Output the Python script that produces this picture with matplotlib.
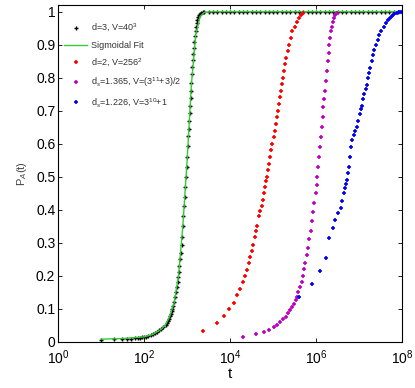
import numpy as np
import matplotlib

matplotlib.use("Agg")
import matplotlib.pyplot as plt

# values: log10(t) and P_A(t)
black_logt = [1.00, 1.30, 1.48, 1.60, 1.70, 1.78, 1.85, 1.90, 1.95, 2.00, 2.05, 2.10, 2.15, 2.20,
              2.25, 2.30, 2.35, 2.40, 2.45, 2.50, 2.53, 2.55, 2.58, 2.60, 2.62, 2.64, 2.66, 2.68,
              2.70, 2.72, 2.74, 2.76, 2.78, 2.79, 2.81, 2.82, 2.84, 2.85, 2.87, 2.88, 2.90, 2.91,
              2.93, 2.94, 2.96, 2.97, 2.99, 3.00, 3.02, 3.03, 3.04, 3.05, 3.06, 3.07, 3.08, 3.09,
              3.10, 3.11, 3.12, 3.13, 3.14, 3.15, 3.17, 3.18, 3.20, 3.21, 3.23, 3.24, 3.26, 3.28,
              3.31, 3.33, 3.37, 3.40]
black_p = [0.007, 0.008, 0.009, 0.010, 0.010, 0.011, 0.012, 0.013, 0.014, 0.015, 0.016, 0.018,
           0.021, 0.024, 0.027, 0.031, 0.035, 0.040, 0.045, 0.052, 0.057, 0.063, 0.070, 0.078,
           0.085, 0.092, 0.100, 0.110, 0.122, 0.135, 0.150, 0.165, 0.180, 0.195, 0.212, 0.230,
           0.250, 0.268, 0.292, 0.318, 0.350, 0.380, 0.410, 0.440, 0.470, 0.500, 0.530, 0.560,
           0.592, 0.623, 0.645, 0.670, 0.692, 0.715, 0.738, 0.760, 0.785, 0.810, 0.832, 0.855,
           0.872, 0.890, 0.908, 0.925, 0.940, 0.955, 0.966, 0.975, 0.983, 0.990, 0.994, 0.997,
           0.999, 1.000]
black_plateau_logt = [3.5, 3.6, 3.7, 3.8, 3.9, 4.0, 4.1, 4.2, 4.3, 4.4, 4.5, 4.6, 4.7, 4.8, 4.9,
                      5.0, 5.1, 5.2, 5.3, 5.4, 5.5, 5.6, 5.7, 5.8, 5.9, 6.0, 6.1, 6.2, 6.3, 6.4,
                      6.5, 6.6, 6.7, 6.8, 6.9, 7.0, 7.1, 7.2, 7.3, 7.4, 7.5, 7.6, 7.7, 7.8, 7.9, 8.0]

fit_logt = [1.0, 1.5, 2.0, 2.2, 2.4, 2.5, 2.6, 2.7, 2.8, 2.9, 3.0, 3.1, 3.2, 3.3, 3.4, 3.6, 8.0]
fit_p = [0.008, 0.010, 0.015, 0.022, 0.038, 0.052, 0.078, 0.120, 0.200, 0.350, 0.550, 0.780,
         0.930, 0.985, 0.998, 1.000, 1.000]

red_logt = [3.37, 3.69, 3.86, 3.98, 4.08, 4.16, 4.22, 4.29, 4.35, 4.39, 4.43, 4.47, 4.51, 4.54,
            4.57, 4.60, 4.63, 4.67, 4.70, 4.73, 4.76, 4.79, 4.81, 4.84, 4.86, 4.88, 4.90, 4.93,
            4.95, 4.98, 5.01, 5.04, 5.07, 5.09, 5.11, 5.13, 5.15, 5.18, 5.20, 5.23, 5.26, 5.28,
            5.31, 5.34, 5.37, 5.41, 5.45, 5.50, 5.55, 5.60, 5.65, 5.70]
red_p = [0.033, 0.056, 0.078, 0.098, 0.118, 0.141, 0.160, 0.180, 0.200, 0.218, 0.239, 0.256,
         0.274, 0.293, 0.317, 0.335, 0.351, 0.380, 0.395, 0.412, 0.430, 0.450, 0.470, 0.486,
         0.500, 0.520, 0.540, 0.560, 0.580, 0.600, 0.620, 0.640, 0.660, 0.680, 0.700, 0.720,
         0.740, 0.760, 0.780, 0.800, 0.820, 0.840, 0.860, 0.880, 0.900, 0.920, 0.940, 0.955,
         0.968, 0.980, 0.990, 0.995]

mag_logt = [4.29, 4.60, 4.78, 4.91, 5.01, 5.08, 5.16, 5.22, 5.29, 5.34, 5.40, 5.44, 5.49, 5.53,
            5.56, 5.59, 5.63, 5.66, 5.69, 5.72, 5.75, 5.78, 5.81, 5.84, 5.87, 5.90, 5.93, 5.96,
            5.99, 6.01, 6.03, 6.05, 6.07, 6.09, 6.11, 6.13, 6.15, 6.17, 6.19, 6.21, 6.23, 6.25,
            6.27, 6.29, 6.31, 6.33, 6.35, 6.37, 6.39, 6.42, 6.45, 6.48]
mag_p = [0.015, 0.023, 0.030, 0.037, 0.044, 0.051, 0.060, 0.068, 0.076, 0.086, 0.096, 0.106,
         0.116, 0.126, 0.136, 0.150, 0.165, 0.180, 0.200, 0.220, 0.240, 0.262, 0.285, 0.310,
         0.335, 0.365, 0.392, 0.420, 0.450, 0.475, 0.500, 0.530, 0.560, 0.590, 0.620, 0.650,
         0.680, 0.710, 0.735, 0.760, 0.790, 0.820, 0.850, 0.875, 0.900, 0.920, 0.940, 0.955,
         0.968, 0.980, 0.990, 0.995]

blue_logt = [5.61, 5.91, 6.08, 6.22, 6.30, 6.39, 6.44, 6.51, 6.57, 6.61, 6.64, 6.67, 6.69, 6.72,
             6.74, 6.76, 6.79, 6.81, 6.84, 6.87, 6.91, 6.95, 6.98, 7.02, 7.05, 7.07, 7.10, 7.12,
             7.15, 7.18, 7.21, 7.24, 7.26, 7.29, 7.32, 7.35, 7.39, 7.43, 7.47, 7.52, 7.57, 7.62,
             7.67, 7.72, 7.77, 7.82, 7.87, 7.92, 7.97]
blue_p = [0.135, 0.175, 0.214, 0.254, 0.313, 0.345, 0.370, 0.390, 0.405, 0.428, 0.450, 0.465,
          0.477, 0.490, 0.510, 0.530, 0.560, 0.590, 0.610, 0.625, 0.640, 0.650, 0.668, 0.690,
          0.705, 0.714, 0.734, 0.750, 0.765, 0.778, 0.800, 0.815, 0.828, 0.850, 0.870, 0.885,
          0.900, 0.915, 0.928, 0.942, 0.955, 0.965, 0.975, 0.982, 0.988, 0.992, 0.996, 0.998,
          1.000]

labels = ["d=3, V=40$^3$", "Sigmoidal Fit", "d=2, V=256$^2$",
          "d$_s$=1.365, V=(3$^{11}$+3)/2", "d$_s$=1.226, V=3$^{10}$+1"]
x_ticks = [1e0, 1e2, 1e4, 1e6, 1e8]
y_ticks = [0, 0.1, 0.2, 0.3, 0.4, 0.5, 0.6, 0.7, 0.8, 0.9, 1]
y_ticklabels = ["0", "0.1", "0.2", "0.3", "0.4", "0.5", "0.6", "0.7", "0.8", "0.9", "1"]

plt.rcParams["font.family"] = ["Liberation Sans", "DejaVu Sans"]
plt.rcParams["mathtext.fontset"] = "custom"
plt.rcParams["mathtext.rm"] = "Liberation Sans"
plt.rcParams["mathtext.it"] = "Liberation Sans:italic"

fig = plt.figure(figsize=(4.15, 3.88), dpi=100)
ax = fig.add_axes([0.140, 0.119, 0.829, 0.868])

black_t = np.power(10.0, black_logt + black_plateau_logt)
black_all_p = black_p + [1.0] * len(black_plateau_logt)
ax.plot(black_t, black_all_p, "+", color="black", ms=3.5, mew=1.0, label=labels[0])
ax.plot(np.power(10.0, fit_logt), fit_p, "-", color="#33cc33", lw=1.0, label=labels[1])
ax.plot(np.power(10.0, red_logt), red_p, "+", color="#ff0000", ms=3.5, mew=1.2, label=labels[2])
ax.plot(np.power(10.0, mag_logt), mag_p, "+", color="#c000c0", ms=3.5, mew=1.2, label=labels[3])
ax.plot(np.power(10.0, blue_logt), blue_p, "+", color="#0000ee", ms=3.5, mew=1.2, label=labels[4])

ax.set_xscale("log")
ax.set_xlim(1e0, 1e8)
ax.set_ylim(0, 1.02)
ax.set_xticks(x_ticks)
ax.set_yticks(y_ticks)
ax.set_yticklabels(y_ticklabels)
ax.xaxis.set_minor_locator(matplotlib.ticker.NullLocator())
ax.tick_params(direction="in", top=True, right=True, labelsize=10, length=3, width=0.6)
ax.tick_params(axis="x", pad=5)
ax.tick_params(axis="y", pad=2)
for side in ax.spines.values():
    side.set_linewidth(0.8)

ax.set_xlabel("t", fontsize=11, labelpad=0)
ax.set_ylabel("P$_A$(t)", fontsize=8, color="#444444", labelpad=5)

leg = ax.legend(loc="upper left", bbox_to_anchor=(0.0, 0.968), frameon=False, fontsize=6.5,
                handlelength=2.5, handletextpad=0.4, labelspacing=0.75, borderaxespad=0.3)
for txt in leg.get_texts():
    txt.set_color("#333333")

fig.savefig("out.png", dpi=100)
